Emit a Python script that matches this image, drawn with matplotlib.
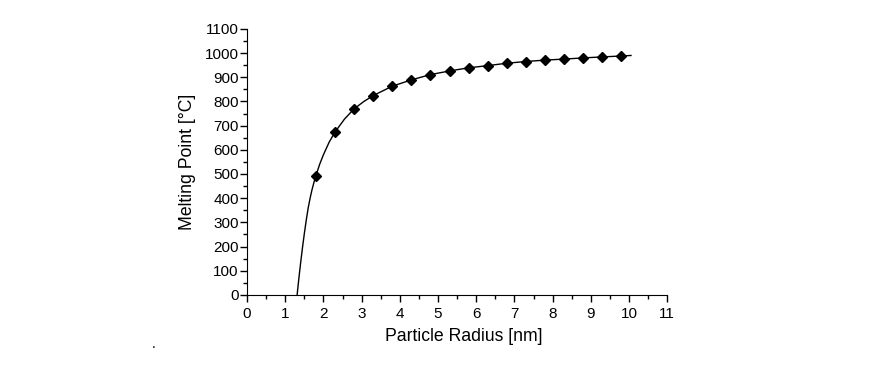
import matplotlib
matplotlib.use("Agg")
import matplotlib.pyplot as plt
from matplotlib.ticker import MultipleLocator

plt.rcParams['font.family'] = ['Liberation Sans', 'DejaVu Sans']

# measured points
radius = [1.8, 2.3, 2.8, 3.3, 3.8, 4.3, 4.8, 5.3, 5.8, 6.3, 6.8, 7.3, 7.8, 8.3, 8.8, 9.3, 9.8]
melt = [492, 673, 769, 824, 863, 889, 911, 926, 939, 948, 958, 965, 971, 975, 980, 984, 988]

# fitted curve
curve_r = [1.31, 1.35, 1.40, 1.45, 1.50, 1.55, 1.60, 1.65, 1.70, 1.75, 1.8, 1.9, 2.0, 2.15, 2.3,
           2.55, 2.8, 3.05, 3.3, 3.8, 4.3, 4.8, 5.3, 5.8, 6.3, 6.8, 7.3, 7.8, 8.3, 8.8, 9.3, 9.8, 10.05]
curve_t = [0, 60, 130, 195, 255, 310, 360, 400, 435, 465, 492, 540, 580, 632, 673,
           727, 769, 799, 824, 863, 889, 911, 926, 939, 948, 958, 965, 971, 975, 980, 984, 988, 990]

fig = plt.figure(figsize=(8.7, 3.8), dpi=100)
ax = fig.add_axes([0.284, 0.224, 0.483, 0.70])

ax.plot(curve_r, curve_t, color='black', lw=1.0)
ax.plot(radius, melt, 'D', color='black', markersize=5.5)

ax.set_xlim(0, 11)
ax.set_ylim(0, 1100)
ax.xaxis.set_major_locator(MultipleLocator(1))
ax.xaxis.set_minor_locator(MultipleLocator(0.5))
ax.yaxis.set_major_locator(MultipleLocator(100))
ax.yaxis.set_minor_locator(MultipleLocator(50))
ax.tick_params(which='major', direction='out', length=5, width=1, labelsize=11)
ax.tick_params(axis='y', which='major', pad=1)
ax.tick_params(which='minor', direction='out', length=3, width=1)

for s in ['top', 'right']:
    ax.spines[s].set_visible(False)

ax.set_xlabel("Particle Radius [nm]", fontsize=12.7, labelpad=5)
ax.xaxis.set_label_coords(0.516, -0.125)
ax.set_ylabel("Melting Point [°C]", fontsize=12.7, labelpad=6)

fig.text(0.174, 0.085, ".", fontsize=10, color='black')

fig.savefig("out.png", dpi=100)
